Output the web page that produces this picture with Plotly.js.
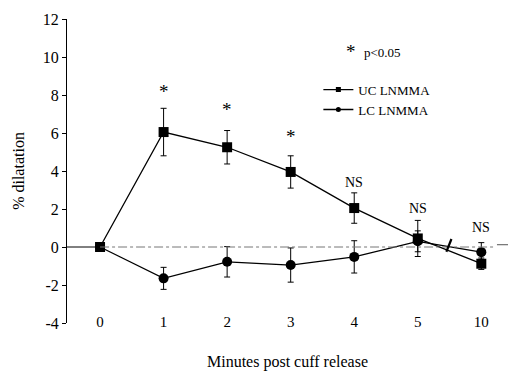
<!DOCTYPE html>
<html>
<head>
<meta charset="utf-8">
<script src="https://cdn.plot.ly/plotly-3.0.1.min.js"></script>
<style>html,body{margin:0;padding:0;background:#fff;}#chart{width:508px;height:375px;}</style>
</head>
<body>
<div id="chart"></div>
<script>
var categories = ['0', '1', '2', '3', '4', '5', '10'];
var ucMean = [0, 6.05, 5.25, 3.95, 2.05, 0.45, -0.88];
var ucErr = [0, 1.25, 0.88, 0.85, 0.8, 0.95, 0.3];
var lcMean = [0, -1.65, -0.78, -0.95, -0.52, 0.3, -0.27];
var lcErr = [0, 0.58, 0.8, 0.9, 0.85, 0.55, 0.5];
var sigLabels = ['', '*', '*', '*', 'NS', 'NS', 'NS'];
var sigY = [null, 8.2, 7.25, 5.83, 3.37, 2.05, 1.05];
var yTicks = [-4, -2, 0, 2, 4, 6, 8, 10, 12];
var yTickText = ['-4', '-2', '0', '2', '4', '6', '8', '10', '12'];

var font = 'Liberation Serif';

var traces = [
  {
    x: categories, y: ucMean, name: 'UC LNMMA', type: 'scatter', mode: 'lines+markers', showlegend: false,
    line: {color: '#000', width: 1.3},
    marker: {symbol: 'square', size: 10, color: '#000'},
    error_y: {type: 'data', array: ucErr, visible: true, color: '#000', thickness: 1, width: 3}
  },
  {
    x: categories, y: lcMean, name: 'LC LNMMA', type: 'scatter', mode: 'lines+markers', showlegend: false,
    line: {color: '#000', width: 1.3},
    marker: {symbol: 'circle', size: 10, color: '#000'},
    error_y: {type: 'data', array: lcErr, visible: true, color: '#000', thickness: 1, width: 3}
  },
  {
    x: [null], y: [null], name: 'UC LNMMA', type: 'scatter', mode: 'lines+markers', showlegend: true,
    line: {color: '#000', width: 1.3}, marker: {symbol: 'square', size: 5, color: '#000'}
  },
  {
    x: [null], y: [null], name: 'LC LNMMA', type: 'scatter', mode: 'lines+markers', showlegend: true,
    line: {color: '#000', width: 1.3}, marker: {symbol: 'circle', size: 5, color: '#000'}
  }
];

var annotations = [];
for (var i = 0; i < categories.length; i++) {
  if (sigLabels[i]) {
    var isStar = sigLabels[i] === '*';
    annotations.push({
      x: i, y: sigY[i], xref: 'x', yref: 'y', text: sigLabels[i], showarrow: false,
      font: {family: font, size: isStar ? 19 : 14, color: '#000'}
    });
  }
}
annotations.push({x: 0.645, y: 0.935, xref: 'paper', yref: 'paper', text: '*', showarrow: false,
  font: {family: font, size: 19, color: '#000'}});
annotations.push({x: 0.67, y: 0.92, xref: 'paper', yref: 'paper', xanchor: 'left', text: 'p&lt;0.05', showarrow: false,
  font: {family: font, size: 13, color: '#000'}});

var layout = {
  width: 508, height: 375,
  margin: {l: 67, r: 0, t: 19, b: 52},
  paper_bgcolor: '#fff', plot_bgcolor: '#fff',
  font: {family: font, color: '#000'},
  showlegend: true,
  legend: {x: 0.57, y: 0.817, xanchor: 'left', yanchor: 'top', bgcolor: 'rgba(0,0,0,0)',
    font: {family: font, size: 13, color: '#000'}, tracegroupgap: 0, itemwidth: 30},
  xaxis: {
    type: 'category', range: [-0.52, 6.42], showline: false, showgrid: false, zeroline: false,
    ticks: '', tickfont: {family: font, size: 15, color: '#000'}, ticklabelstandoff: -12,
    title: {text: 'Minutes post cuff release', font: {family: font, size: 16, color: '#000'}, standoff: 26}
  },
  yaxis: {
    range: [-4, 12], tickvals: yTicks, ticktext: yTickText, showline: true, linecolor: '#000', linewidth: 1,
    ticks: 'outside', ticklen: 4, tickcolor: '#000', showgrid: false, zeroline: false,
    tickfont: {family: font, size: 16, color: '#000'},
    title: {text: '% dilatation', font: {family: font, size: 16, color: '#000'}, standoff: 14}
  },
  shapes: [
    {type: 'line', xref: 'paper', yref: 'y', x0: 0, x1: 0.075, y0: 0, y1: 0, line: {color: '#000', width: 1}},
    {type: 'line', xref: 'paper', yref: 'y', x0: 0.075, x1: 0.97, y0: 0, y1: 0, line: {color: '#777', width: 1, dash: 'dashdot'}},
    {type: 'line', xref: 'paper', yref: 'y', x0: 0.975, x1: 1, y0: 0.12, y1: 0.12, line: {color: '#555', width: 1}},
    {type: 'line', xref: 'x', yref: 'y', x0: 5.45, x1: 5.53, y0: -0.25, y1: 0.42, line: {color: '#000', width: 2.2}}
  ],
  annotations: annotations
};

Plotly.newPlot('chart', traces, layout, {displayModeBar: false, staticPlot: true});
</script>
</body>
</html>
